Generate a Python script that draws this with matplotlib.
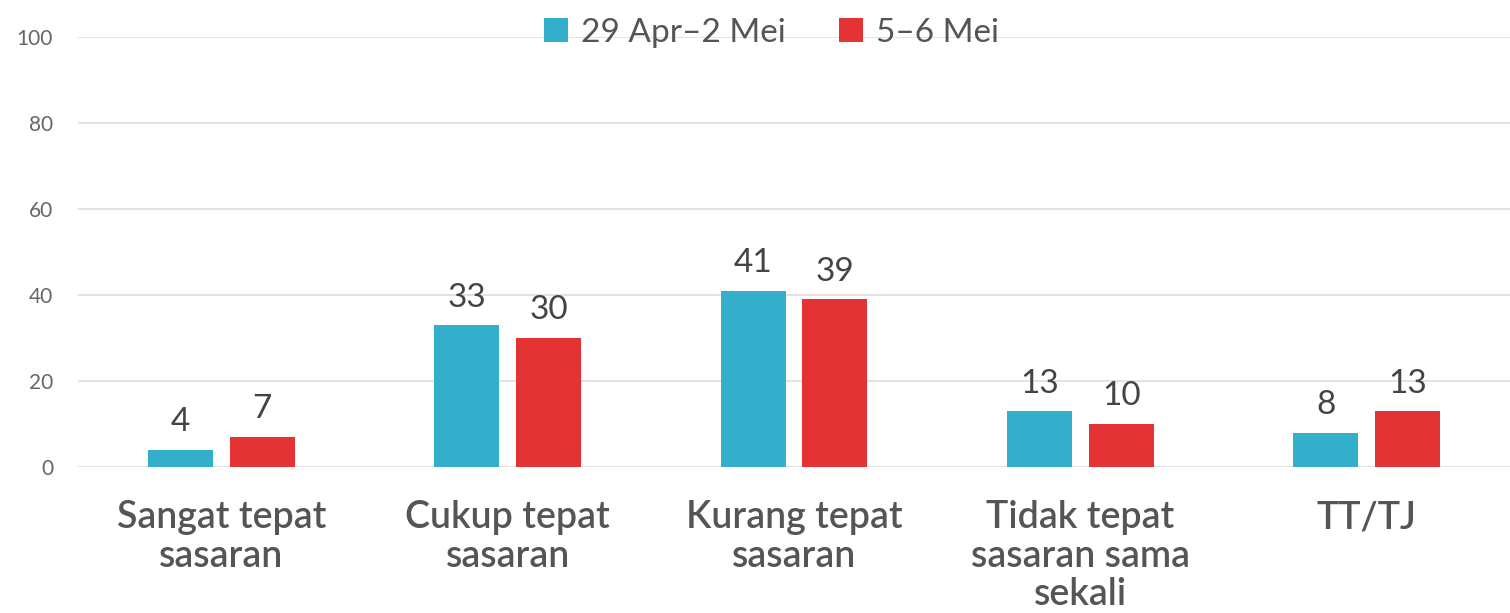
import numpy as np
import matplotlib
matplotlib.use("Agg")
import matplotlib.pyplot as plt
from matplotlib.patches import Patch

# data
kategori = ["Sangat tepat\nsasaran", "Cukup tepat\nsasaran", "Kurang tepat\nsasaran",
            "Tidak tepat\nsasaran sama\nsekali", "TT/TJ"]
seri_1 = [4, 33, 41, 13, 8]
seri_2 = [7, 30, 39, 10, 13]
nama_seri = ["29 Apr\u20132 Mei", "5\u20136 Mei"]
yticks = [0, 20, 40, 60, 80, 100]

warna_biru = "#33AFCB"
warna_merah = "#E33335"

plt.rcParams['font.family'] = ['Lato', 'DejaVu Sans']

fig = plt.figure(figsize=(15.10, 6.13), dpi=100)
ax = fig.add_axes([0.0517, 0.2382, 0.9483, 0.7014])

x = np.arange(len(kategori))
lebar = 0.227
geser = 0.143
b1 = ax.bar(x - geser, seri_1, width=lebar, color=warna_biru, zorder=3)
b2 = ax.bar(x + geser, seri_2, width=lebar, color=warna_merah, zorder=3)

for bars, vals in [(b1, seri_1), (b2, seri_2)]:
    for r, v in zip(bars, vals):
        ax.annotate(f"{v}", (r.get_x() + r.get_width() / 2, v),
                    xytext=(0, 9), textcoords="offset points",
                    ha="center", va="bottom", fontsize=24, color="#444444")

ax.set_xlim(-0.5, len(kategori) - 0.5)
ax.set_ylim(0, 100)
ax.set_yticks(yticks)
ax.set_yticklabels([str(t) for t in yticks], fontsize=15, color="#666666")
ax.set_xticks(x)
ax.set_xticklabels(kategori, fontsize=27, color="#555555", fontweight="semibold",
                   linespacing=1.12)
ax.tick_params(axis="y", length=0, pad=18)
ax.tick_params(axis="x", length=0, pad=24)
ax.grid(axis="y", color="#E3E3E3", linewidth=1.4, zorder=0)
ax.set_axisbelow(True)
for s in ax.spines.values():
    s.set_visible(False)

handles = [Patch(facecolor=warna_biru), Patch(facecolor=warna_merah)]
fig.legend(handles, nama_seri, loc="upper center", bbox_to_anchor=(0.511, 1.02),
           ncol=2, frameon=False, fontsize=24, handlelength=0.72, handleheight=0.72,
           handletextpad=0.4, columnspacing=1.6, labelcolor="#555555")

fig.savefig("out.png", dpi=100)
